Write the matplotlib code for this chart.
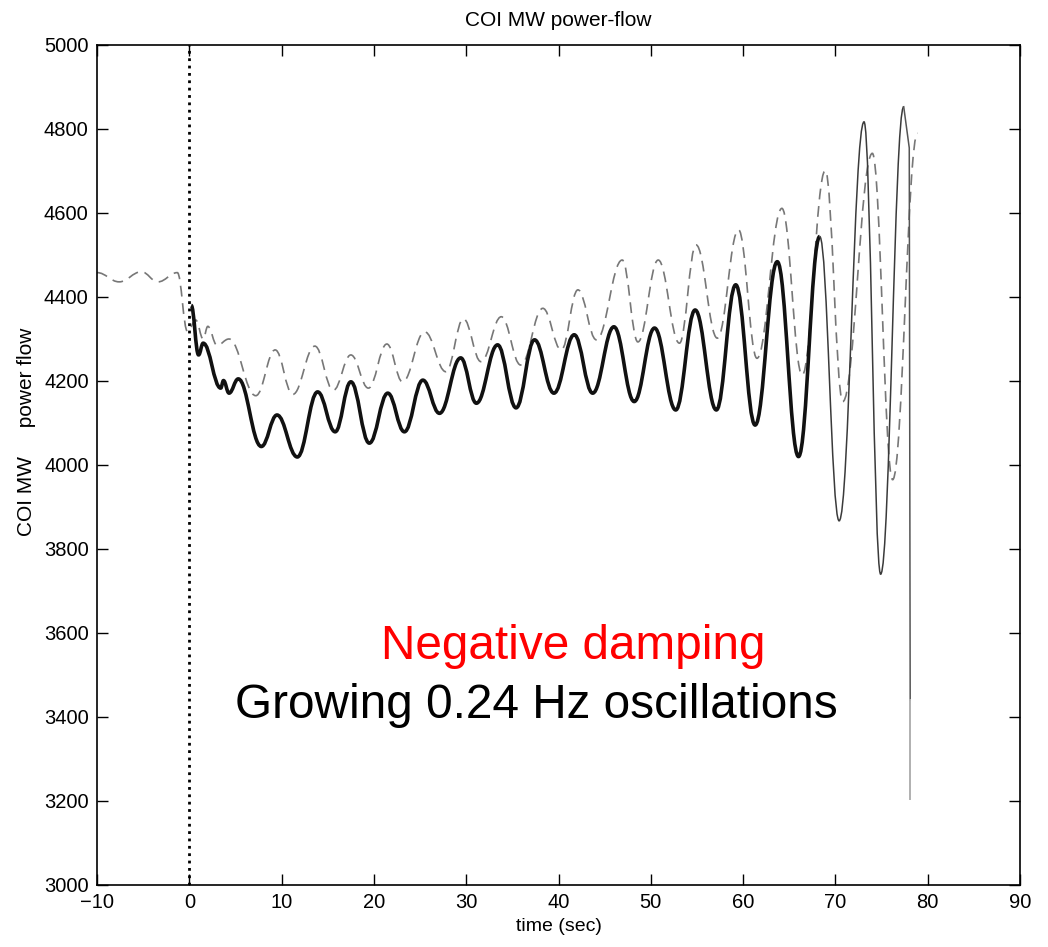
import matplotlib
matplotlib.use('Agg')
import matplotlib.pyplot as plt
from matplotlib.path import Path
from matplotlib.patches import PathPatch

plt.rcParams['font.family'] = ['Liberation Sans', 'DejaVu Sans']

meas_t = [0.2, 1.0, 1.5, 3.4, 3.7, 4.3, 5.3, 7.8, 9.5, 11.7, 13.9, 15.8, 17.5, 19.5,
          21.5, 23.3, 25.3, 27.1, 29.4, 31.1, 33.4, 35.4, 37.4, 39.5, 41.7, 43.7,
          46.0, 48.2, 50.4, 52.7, 54.8, 57.1, 59.2, 61.3, 63.7, 66.0, 68.3]
meas_y = [4380, 4262, 4290, 4183, 4201, 4171, 4205, 4044, 4119, 4019, 4174, 4079, 4198, 4052,
          4171, 4079, 4202, 4123, 4255, 4147, 4286, 4136, 4298, 4171, 4310, 4171,
          4329, 4151, 4326, 4131, 4369, 4131, 4429, 4095, 4484, 4020, 4544]
# last swings (thinner trace) and the breakup
late_t = [68.3, 70.4, 73.1, 74.9, 77.4]
late_y = [4544, 3867, 4817, 3740, 4853]
fall_t = [77.4, 78.0, 78.1]
fall_y = [4853, 4755, 3440]
tail_t = [78.1, 78.1]
tail_y = [3440, 3205]

# simulated (dashed) trace
sim_t = [-10.0, -7.6, -5.2, -3.4, -1.3, -0.2, 0.7, 1.5, 2.0, 3.0, 4.3, 7.2, 9.3, 11.2,
         13.6, 15.6, 17.5, 19.4, 21.4, 23.1, 25.5, 27.8, 29.7, 31.6, 33.8, 35.9, 38.3,
         40.3, 42.1, 44.1, 46.9, 48.6, 50.8, 53.1, 54.9, 57.2, 59.5, 61.5, 64.2, 66.4,
         68.9, 70.8, 74.0, 76.2, 78.9]
sim_y = [4458, 4436, 4460, 4436, 4458, 4318, 4345, 4300, 4330, 4285, 4300, 4165, 4274, 4168,
         4283, 4178, 4262, 4183, 4288, 4198, 4317, 4222, 4348, 4246, 4353, 4238, 4373,
         4274, 4417, 4298, 4488, 4293, 4488, 4290, 4524, 4302, 4560, 4254, 4611, 4214,
         4701, 4151, 4742, 3965, 4790]


def smooth_path(t, y):
    # cubic segments with flat tangents at each turning point
    verts = [(t[0], y[0])]
    codes = [Path.MOVETO]
    for i in range(len(t) - 1):
        d = (t[i + 1] - t[i]) * 0.4
        verts += [(t[i] + d, y[i]), (t[i + 1] - d, y[i + 1]), (t[i + 1], y[i + 1])]
        codes += [Path.CURVE4] * 3
    return Path(verts, codes)


fig = plt.figure(figsize=(10.48, 9.47), dpi=100)
ax = fig.add_axes([0.0926, 0.0655, 0.8807, 0.887])

ax.add_patch(PathPatch(smooth_path(sim_t, sim_y), fill=False, edgecolor='#777777',
                       linewidth=1.2, linestyle=(0, (6.5, 4))))
ax.add_patch(PathPatch(smooth_path(meas_t, meas_y), fill=False, edgecolor='#111111',
                       linewidth=2.6, joinstyle='round'))
ax.add_patch(PathPatch(smooth_path(late_t, late_y), fill=False, edgecolor='#3a3a3a',
                       linewidth=1.1))
ax.plot(fall_t, fall_y, color='#555555', linewidth=1.1)
ax.plot(tail_t, tail_y, color='#b0b0b0', linewidth=1.4)

ax.axvline(0, color='black', linestyle=':', linewidth=2)

ax.text(20.8, 3538, 'Negative damping', color='red', fontsize=34.4, va='baseline', ha='left')
ax.text(5.0, 3398, 'Growing 0.24 Hz oscillations', color='black', fontsize=34.4,
        va='baseline', ha='left')

ax.set_xlim(-10, 90)
ax.set_ylim(3000, 5000)
ax.set_xticks(range(-10, 91, 10))
ax.set_yticks(range(3000, 5001, 200))
ax.tick_params(direction='in', length=8, width=1, top=True, right=True,
               labelsize=14.5, pad=6)
for s in ax.spines.values():
    s.set_linewidth(1.2)

ax.set_title('COI MW power-flow', fontsize=15, pad=14)
ax.set_xlabel('time (sec)', fontsize=14)
ax.set_ylabel('COI MW     power flow', fontsize=15)
ax.yaxis.set_label_coords(-0.066, 0.54)

fig.savefig('out.png', dpi=100)
